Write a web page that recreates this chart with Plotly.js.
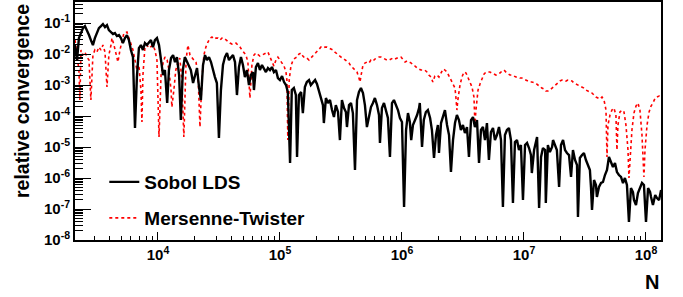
<!DOCTYPE html>
<html>
<head>
<meta charset="utf-8">
<script src="https://cdn.plot.ly/plotly-3.0.1.min.js"></script>
<style>html,body{margin:0;padding:0;background:#fff;}#chart{width:683px;height:297px;}</style>
</head>
<body>
<div id="chart"></div>
<script>
// Sobol LDS: sample size N and relative convergence
const nSobol = [2.09e3,2.17e3,2.25e3,2.34e3,2.43e3,2.52e3,2.62e3,2.72e3,2.82e3,2.93e3,3.04e3,3.16e3,3.28e3,3.41e3,3.54e3,3.68e3,3.82e3,3.96e3,4.12e3,4.28e3,4.44e3,4.61e3,4.79e3,4.97e3,5.16e3,5.36e3,5.57e3,5.78e3,6.00e3,6.24e3,6.48e3,6.72e3,6.98e3,7.25e3,7.53e3,7.82e3,8.12e3,8.43e3,8.76e3,9.10e3,9.44e3,9.81e3,
1.02e4,1.06e4,1.10e4,1.14e4,1.19e4,1.23e4,1.28e4,1.33e4,1.38e4,1.43e4,1.49e4,1.54e4,1.60e4,1.66e4,1.73e4,1.79e4,1.86e4,1.94e4,2.01e4,2.09e4,2.17e4,2.25e4,2.34e4,2.43e4,2.52e4,2.62e4,2.72e4,2.82e4,2.93e4,3.04e4,3.16e4,3.28e4,3.41e4,3.54e4,3.68e4,3.82e4,3.96e4,4.12e4,4.28e4,4.44e4,4.61e4,4.79e4,4.97e4,5.16e4,5.36e4,5.57e4,5.78e4,6.00e4,6.12e4,6.35e4,6.60e4,6.85e4,7.12e4,7.39e4,7.67e4,7.97e4,8.28e4,8.59e4,8.92e4,9.27e4,9.62e4,
1.00e5,1.04e5,1.08e5,1.12e5,1.16e5,1.21e5,1.25e5,1.30e5,1.35e5,1.38e5,1.43e5,1.49e5,1.54e5,1.60e5,1.66e5,1.73e5,1.79e5,1.86e5,1.94e5,2.01e5,2.09e5,2.17e5,2.25e5,2.29e5,2.38e5,2.47e5,2.57e5,2.67e5,2.77e5,2.87e5,2.99e5,3.10e5,3.22e5,3.35e5,3.47e5,3.54e5,3.68e5,3.82e5,3.96e5,4.12e5,4.28e5,4.44e5,4.61e5,4.79e5,4.97e5,5.16e5,5.36e5,5.57e5,5.78e5,6.00e5,6.24e5,6.48e5,6.60e5,6.85e5,7.12e5,7.39e5,7.67e5,7.97e5,8.28e5,8.59e5,8.92e5,9.27e5,9.62e5,
1.00e6,1.04e6,1.08e6,1.12e6,1.16e6,1.19e6,1.23e6,1.28e6,1.33e6,1.38e6,1.40e6,1.46e6,1.51e6,1.57e6,1.63e6,1.70e6,1.76e6,1.83e6,1.90e6,1.97e6,2.01e6,2.09e6,2.17e6,2.25e6,2.34e6,2.43e6,2.52e6,2.62e6,2.72e6,2.82e6,2.93e6,3.04e6,3.16e6,3.28e6,3.41e6,3.54e6,3.68e6,3.82e6,3.96e6,4.12e6,4.28e6,4.44e6,4.61e6,4.79e6,4.97e6,5.16e6,5.36e6,5.57e6,5.78e6,6.00e6,6.24e6,6.48e6,6.72e6,6.98e6,7.25e6,7.53e6,7.82e6,8.12e6,8.43e6,8.76e6,9.10e6,9.44e6,9.81e6,
1.02e7,1.06e7,1.10e7,1.14e7,1.16e7,1.21e7,1.25e7,1.28e7,1.33e7,1.38e7,1.43e7,1.49e7,1.51e7,1.57e7,1.63e7,1.70e7,1.73e7,1.79e7,1.86e7,1.94e7,2.01e7,2.09e7,2.17e7,2.25e7,2.34e7,2.43e7,2.52e7,2.62e7,2.72e7,2.77e7,2.87e7,2.99e7,3.10e7,3.22e7,3.35e7,3.47e7,3.54e7,3.61e7,3.75e7,3.89e7,3.96e7,4.12e7,4.28e7,4.44e7,4.61e7,4.79e7,4.97e7,5.16e7,5.36e7,5.57e7,5.78e7,6.00e7,6.24e7,6.48e7,6.72e7,6.98e7,7.25e7,7.53e7,7.82e7,7.97e7,8.28e7,8.59e7,8.92e7,9.27e7,9.62e7,
1.00e8,1.04e8,1.08e8,1.10e8,1.14e8,1.19e8,1.23e8,1.28e8,1.33e8];
const sobol = [1.95e-2,6.41e-3,3.28e-2,4.76e-2,6.90e-2,8.00e-2,5.95e-2,4.10e-2,2.83e-2,1.95e-2,3.28e-2,4.76e-2,6.90e-2,8.00e-2,9.28e-2,7.43e-2,8.62e-2,5.95e-2,5.13e-2,4.42e-2,4.76e-2,3.81e-2,4.10e-2,3.28e-2,2.26e-2,3.28e-2,4.10e-2,2.83e-2,1.35e-2,8.00e-3,4.10e-5,1.81e-3,1.56e-2,1.95e-2,1.35e-2,2.26e-2,1.95e-2,2.44e-2,2.83e-2,1.68e-2,2.83e-2,3.28e-2,
1.95e-2,6.41e-3,2.10e-3,3.05e-3,2.63e-4,3.05e-3,7.43e-3,9.28e-3,5.52e-3,8.00e-3,2.10e-3,7.43e-5,3.05e-3,8.00e-3,5.52e-3,4.42e-3,3.05e-3,1.16e-3,2.10e-3,3.54e-3,8.62e-4,3.28e-4,4.42e-3,9.28e-3,6.41e-3,8.00e-3,5.52e-3,3.05e-3,1.81e-3,1.16e-3,1.95e-5,6.90e-4,4.42e-3,8.00e-3,1.08e-2,6.41e-3,8.00e-3,9.28e-3,5.52e-3,4.76e-4,3.81e-3,8.00e-3,4.42e-3,1.81e-3,3.05e-3,1.00e-3,2.10e-3,2.63e-3,6.90e-4,3.81e-3,5.13e-3,3.05e-3,4.42e-3,3.54e-3,2.63e-3,3.54e-3,3.05e-3,3.81e-3,2.63e-3,3.05e-3,1.68e-3,
1.45e-3,1.95e-3,1.25e-3,1.00e-3,5.95e-4,3.05e-6,6.90e-4,8.00e-4,4.76e-4,4.76e-6,4.76e-4,5.95e-4,1.25e-4,8.62e-4,1.25e-3,1.45e-3,1.00e-3,1.25e-3,1.45e-3,1.08e-3,5.95e-4,3.28e-4,2.26e-4,5.95e-5,3.81e-4,2.63e-4,3.28e-4,1.56e-4,9.28e-5,2.26e-4,1.35e-4,1.68e-5,3.28e-4,1.81e-4,1.35e-4,4.42e-5,2.26e-4,2.63e-4,1.25e-4,1.81e-6,3.28e-4,5.95e-4,8.00e-4,5.52e-4,2.26e-4,4.42e-5,1.08e-4,1.95e-4,2.63e-4,3.81e-4,2.26e-4,1.08e-4,1.35e-5,1.81e-4,2.63e-4,1.35e-4,8.62e-5,4.76e-6,2.63e-4,3.28e-4,2.26e-4,1.56e-4,8.62e-5,
6.41e-5,1.16e-7,3.54e-5,1.25e-4,6.41e-5,1.68e-5,5.13e-5,7.43e-5,1.08e-4,1.81e-4,2.63e-4,1.00e-5,7.43e-5,1.35e-4,1.56e-4,8.62e-5,3.54e-5,4.42e-6,2.44e-5,5.13e-5,6.41e-6,5.95e-5,1.08e-4,1.56e-4,5.13e-5,2.44e-5,1.56e-6,1.68e-5,5.95e-5,1.08e-4,7.43e-5,3.54e-5,5.13e-5,2.83e-5,4.42e-5,4.76e-6,7.43e-5,9.28e-5,4.42e-5,7.43e-5,3.05e-6,3.54e-5,4.42e-5,1.68e-5,5.95e-5,3.81e-6,3.05e-5,4.10e-5,1.68e-5,2.44e-5,4.42e-5,1.68e-5,1.16e-7,2.44e-5,3.54e-5,4.10e-5,1.68e-5,1.56e-7,1.45e-5,1.68e-5,8.00e-6,1.16e-5,1.95e-7,
1.16e-5,1.35e-5,9.28e-6,5.52e-6,1.45e-6,8.00e-6,1.68e-5,2.10e-5,1.08e-7,4.76e-6,9.28e-6,8.00e-6,1.56e-7,1.16e-5,6.90e-6,1.00e-5,1.68e-5,1.16e-5,8.00e-6,5.13e-7,1.16e-5,1.68e-5,8.00e-6,6.41e-6,5.52e-6,1.08e-6,8.00e-6,3.81e-6,2.63e-6,5.52e-8,4.42e-6,5.52e-6,6.41e-6,3.81e-6,2.63e-6,1.81e-6,5.13e-7,9.28e-8,8.62e-7,5.95e-7,2.44e-7,5.13e-7,6.90e-7,7.43e-7,1.25e-6,1.81e-6,4.76e-6,3.28e-6,2.26e-6,3.05e-6,1.56e-6,1.25e-6,1.08e-6,6.90e-7,1.00e-6,5.95e-7,3.81e-8,4.76e-7,3.54e-7,1.95e-7,1.35e-7,3.28e-7,5.13e-7,6.90e-7,5.95e-7,
3.81e-8,4.76e-7,3.54e-7,2.44e-7,1.35e-7,2.83e-7,2.26e-7,1.95e-7,4.10e-7];

// Mersenne-Twister: sample size N and relative convergence
const nMT = [2.09e3,2.17e3,2.25e3,2.29e3,2.34e3,2.43e3,2.52e3,2.62e3,2.72e3,2.82e3,2.93e3,3.04e3,3.16e3,3.28e3,3.41e3,3.54e3,3.68e3,3.82e3,3.96e3,4.12e3,4.20e3,4.36e3,4.53e3,4.70e3,4.88e3,5.07e3,5.26e3,5.57e3,5.78e3,6.00e3,6.24e3,6.48e3,6.72e3,6.98e3,7.25e3,7.39e3,7.53e3,7.82e3,8.12e3,8.43e3,8.76e3,9.10e3,9.44e3,9.81e3,
1.02e4,1.06e4,1.10e4,1.14e4,1.19e4,1.23e4,1.28e4,1.30e4,1.35e4,1.40e4,1.46e4,1.51e4,1.57e4,1.63e4,1.70e4,1.76e4,1.83e4,1.90e4,1.97e4,2.05e4,2.13e4,2.21e4,2.29e4,2.38e4,2.47e4,2.57e4,2.67e4,2.77e4,2.87e4,2.99e4,3.10e4,3.22e4,3.35e4,3.47e4,3.61e4,3.75e4,3.89e4,4.04e4,4.20e4,4.36e4,4.53e4,4.70e4,4.88e4,5.07e4,5.26e4,5.46e4,5.67e4,5.89e4,6.12e4,6.35e4,6.60e4,6.85e4,7.12e4,7.39e4,7.67e4,7.97e4,8.28e4,8.59e4,8.92e4,9.27e4,9.62e4,
1.00e5,1.04e5,1.08e5,1.12e5,1.14e5,1.16e5,1.19e5,1.23e5,1.28e5,1.33e5,1.38e5,1.43e5,1.49e5,1.54e5,1.60e5,1.66e5,1.73e5,1.79e5,1.86e5,1.94e5,2.01e5,2.09e5,2.17e5,2.25e5,2.34e5,2.43e5,2.52e5,2.62e5,2.72e5,2.82e5,2.93e5,3.04e5,3.16e5,3.28e5,3.41e5,3.54e5,3.68e5,3.82e5,3.96e5,4.12e5,4.28e5,4.44e5,4.53e5,4.61e5,4.79e5,4.97e5,5.16e5,5.36e5,5.57e5,5.78e5,6.00e5,6.24e5,6.48e5,6.72e5,6.98e5,7.25e5,7.53e5,7.82e5,8.12e5,8.43e5,8.76e5,9.10e5,9.44e5,9.81e5,
1.02e6,1.06e6,1.10e6,1.14e6,1.19e6,1.23e6,1.28e6,1.33e6,1.38e6,1.43e6,1.49e6,1.54e6,1.60e6,1.66e6,1.73e6,1.79e6,1.86e6,1.94e6,2.01e6,2.09e6,2.17e6,2.25e6,2.34e6,2.43e6,2.52e6,2.62e6,2.72e6,2.77e6,2.82e6,2.87e6,2.99e6,3.10e6,3.22e6,3.35e6,3.47e6,3.61e6,3.75e6,3.89e6,3.96e6,4.04e6,4.20e6,4.36e6,4.53e6,4.70e6,4.88e6,5.07e6,5.26e6,5.46e6,5.67e6,5.89e6,6.12e6,6.35e6,6.60e6,6.85e6,7.12e6,7.39e6,7.67e6,7.97e6,8.28e6,8.59e6,8.92e6,9.27e6,9.62e6,
1.00e7,1.04e7,1.08e7,1.12e7,1.16e7,1.21e7,1.25e7,1.30e7,1.35e7,1.40e7,1.46e7,1.51e7,1.57e7,1.63e7,1.70e7,1.76e7,1.83e7,1.90e7,1.97e7,2.05e7,2.13e7,2.21e7,2.29e7,2.38e7,2.47e7,2.57e7,2.67e7,2.77e7,2.87e7,2.99e7,3.10e7,3.22e7,3.35e7,3.47e7,3.61e7,3.75e7,3.89e7,4.04e7,4.20e7,4.36e7,4.53e7,4.70e7,4.79e7,4.88e7,5.07e7,5.26e7,5.46e7,5.67e7,5.78e7,5.89e7,6.12e7,6.35e7,6.60e7,6.85e7,7.12e7,7.25e7,7.39e7,7.67e7,7.97e7,8.28e7,8.59e7,8.92e7,9.27e7,9.62e7,9.81e7,
1.02e8,1.06e8,1.10e8,1.14e8,1.19e8,1.23e8,1.28e8,1.33e8];
const mt = [2.83e-2,9.28e-3,3.05e-3,3.28e-4,1.35e-2,9.28e-3,1.16e-2,8.00e-3,6.41e-3,3.28e-4,9.28e-3,1.35e-2,1.16e-2,1.68e-2,1.35e-2,1.95e-2,1.16e-2,8.62e-4,9.28e-3,1.95e-2,3.28e-2,1.95e-2,9.28e-3,5.52e-3,1.35e-2,2.83e-2,4.76e-2,5.13e-2,3.28e-2,1.95e-2,1.35e-2,6.41e-3,3.05e-3,4.42e-3,6.90e-4,6.41e-5,2.10e-3,1.68e-2,1.95e-2,1.56e-2,1.81e-2,1.95e-2,1.35e-2,6.41e-3,
2.10e-5,2.10e-3,5.13e-3,8.00e-3,6.41e-3,3.05e-3,6.90e-4,1.95e-4,6.90e-4,3.05e-3,5.52e-3,7.43e-3,1.45e-3,2.10e-5,6.41e-3,1.95e-2,9.28e-3,7.43e-3,6.41e-3,5.52e-3,2.10e-3,4.42e-5,1.45e-3,9.28e-3,1.68e-2,2.44e-2,3.28e-2,3.54e-2,3.05e-2,3.28e-2,3.28e-2,2.83e-2,3.28e-2,3.28e-2,2.83e-2,2.44e-2,2.26e-2,2.10e-2,2.26e-2,2.26e-2,1.95e-2,1.68e-2,1.35e-2,1.16e-2,9.28e-3,5.52e-3,3.81e-4,4.42e-3,9.28e-3,1.08e-2,9.28e-3,8.62e-3,9.28e-3,1.00e-2,1.08e-2,1.16e-2,8.00e-3,5.52e-3,4.10e-3,6.41e-3,8.00e-3,
6.41e-3,5.13e-3,4.10e-3,2.63e-3,1.45e-3,1.68e-5,1.45e-3,4.10e-3,6.41e-3,7.43e-3,8.00e-3,1.00e-2,1.08e-2,8.62e-3,7.43e-3,7.43e-3,6.41e-3,7.43e-3,8.62e-3,1.08e-2,1.16e-2,1.45e-2,1.68e-2,1.56e-2,1.68e-2,1.68e-2,1.56e-2,1.45e-2,1.35e-2,1.16e-2,1.00e-2,9.28e-3,8.00e-3,7.43e-3,6.41e-3,5.95e-3,5.13e-3,4.10e-3,3.54e-3,3.05e-3,2.63e-3,1.68e-3,1.25e-3,1.95e-3,4.42e-3,5.13e-3,5.52e-3,5.13e-3,6.41e-3,5.95e-3,6.90e-3,7.43e-3,8.00e-3,8.00e-3,7.43e-3,6.90e-3,6.41e-3,6.41e-3,6.90e-3,7.43e-3,6.90e-3,7.43e-3,8.00e-3,8.00e-3,
6.41e-3,5.52e-3,5.95e-3,5.52e-3,5.13e-3,4.42e-3,4.10e-3,3.54e-3,3.28e-3,3.05e-3,3.05e-3,3.05e-3,2.63e-3,2.10e-3,1.81e-3,1.25e-3,1.95e-3,2.10e-3,1.81e-3,2.44e-3,3.28e-3,3.05e-3,2.63e-3,1.95e-3,1.45e-3,1.08e-3,8.00e-4,3.81e-4,1.56e-4,3.28e-4,1.00e-3,1.81e-3,2.63e-3,2.44e-3,1.68e-3,1.25e-3,8.62e-4,4.10e-4,5.95e-5,1.56e-4,6.90e-4,1.08e-3,1.68e-3,2.26e-3,2.63e-3,2.63e-3,2.63e-3,2.44e-3,2.26e-3,2.10e-3,2.26e-3,2.44e-3,2.83e-3,3.05e-3,2.63e-3,2.26e-3,2.10e-3,2.10e-3,1.95e-3,1.81e-3,1.81e-3,1.68e-3,1.68e-3,
1.56e-3,1.45e-3,1.35e-3,1.25e-3,1.25e-3,1.16e-3,1.16e-3,1.00e-3,9.28e-4,8.00e-4,7.43e-4,6.41e-4,6.41e-4,6.90e-4,8.00e-4,9.28e-4,1.00e-3,1.16e-3,1.35e-3,1.45e-3,1.45e-3,1.35e-3,1.45e-3,1.45e-3,1.35e-3,1.16e-3,1.08e-3,1.00e-3,9.28e-4,8.62e-4,8.00e-4,6.90e-4,6.41e-4,5.95e-4,5.52e-4,4.76e-4,4.10e-4,3.81e-4,3.54e-4,4.10e-4,3.28e-4,1.56e-4,4.76e-6,5.13e-5,1.08e-4,1.56e-4,1.81e-4,1.08e-4,8.00e-6,5.13e-5,1.35e-4,1.56e-4,1.35e-4,5.13e-5,8.00e-6,1.00e-6,3.81e-6,3.54e-5,1.25e-4,2.10e-4,2.63e-4,1.56e-4,2.44e-5,1.08e-6,8.00e-6,
5.13e-5,1.35e-4,2.10e-4,2.63e-4,3.81e-4,4.10e-4,4.42e-4,4.10e-4];

// Axis ticks and labels
const xTickVals = [1e4, 1e5, 1e6, 1e7, 1e8];
const xTickText = ['10<sup>4</sup>', '10<sup>5</sup>', '10<sup>6</sup>', '10<sup>7</sup>', '10<sup>8</sup>'];
const yTickVals = [1e-8, 1e-7, 1e-6, 1e-5, 1e-4, 1e-3, 1e-2, 1e-1];
const yTickText = ['10<sup>-8</sup>', '10<sup>-7</sup>', '10<sup>-6</sup>', '10<sup>-5</sup>', '10<sup>-4</sup>', '10<sup>-3</sup>', '10<sup>-2</sup>', '10<sup>-1</sup>'];
const seriesNames = ['Sobol LDS', 'Mersenne-Twister'];
const xTitle = 'N';
const yTitle = 'relative convergence';

function minorTicks(d0, d1) {
  const out = [];
  for (let d = d0; d <= d1; d++) {
    for (let m = 2; m <= 9; m++) out.push(m * Math.pow(10, d));
  }
  return out;
}

const FONT = 'Liberation Sans, Arial, Helvetica, sans-serif';

const traces = [
  {
    x: nMT, y: mt, type: 'scatter', mode: 'lines', name: seriesNames[1],
    line: {color: '#ff0000', width: 1.6, dash: 'dot'}, legend: 'legend2'
  },
  {
    x: nSobol, y: sobol, type: 'scatter', mode: 'lines', name: seriesNames[0],
    line: {color: '#000000', width: 2.4}, legend: 'legend'
  }
];

const axisCommon = {
  type: 'log', showgrid: false, zeroline: false,
  showline: true, linecolor: '#000', linewidth: 2, mirror: true,
  ticks: 'inside', tickcolor: '#000', tickwidth: 1,
  tickmode: 'array',
  tickfont: {family: FONT, size: 15, color: '#000', weight: 'bold'}
};

const layout = {
  width: 683, height: 297,
  margin: {l: 75, r: 22, t: 2, b: 57, pad: 0},
  paper_bgcolor: '#fff', plot_bgcolor: '#fff',
  showlegend: true,
  xaxis: Object.assign({}, axisCommon, {
    range: [3.32, 8.123],
    tickvals: xTickVals, ticktext: xTickText, ticklen: 8,
    minor: {tickmode: 'array', tickvals: minorTicks(3, 8), ticks: 'inside', ticklen: 4, tickcolor: '#000', tickwidth: 1, showgrid: false}
  }),
  yaxis: Object.assign({}, axisCommon, {
    range: [-8, -0.32],
    tickvals: yTickVals, ticktext: yTickText, ticklen: 16,
    minor: {tickmode: 'array', tickvals: minorTicks(-8, -1), ticks: 'inside', ticklen: 8, tickcolor: '#000', tickwidth: 1, showgrid: false}
  }),
  legend: {
    x: 0.05, y: 0.2437, xanchor: 'left', yanchor: 'middle',
    bgcolor: 'rgba(0,0,0,0)', borderwidth: 0,
    font: {family: FONT, size: 19, color: '#000', weight: 'bold'}
  },
  legend2: {
    x: 0.05, y: 0.0924, xanchor: 'left', yanchor: 'middle',
    bgcolor: 'rgba(0,0,0,0)', borderwidth: 0,
    font: {family: FONT, size: 19, color: '#000', weight: 'bold'}
  },
  annotations: [
    {
      text: yTitle, xref: 'paper', yref: 'paper', x: -0.0904, y: 1.0,
      xanchor: 'center', yanchor: 'top', textangle: -90, showarrow: false,
      font: {family: FONT, size: 19.5, color: '#000', weight: 'bold'}
    },
    {
      text: xTitle, xref: 'paper', yref: 'paper', x: 1.0, y: -0.1765,
      xanchor: 'right', yanchor: 'middle', showarrow: false,
      font: {family: FONT, size: 20, color: '#000', weight: 'bold'}
    }
  ]
};

Plotly.newPlot('chart', traces, layout, {displayModeBar: false, staticPlot: true});
</script>
</body>
</html>
